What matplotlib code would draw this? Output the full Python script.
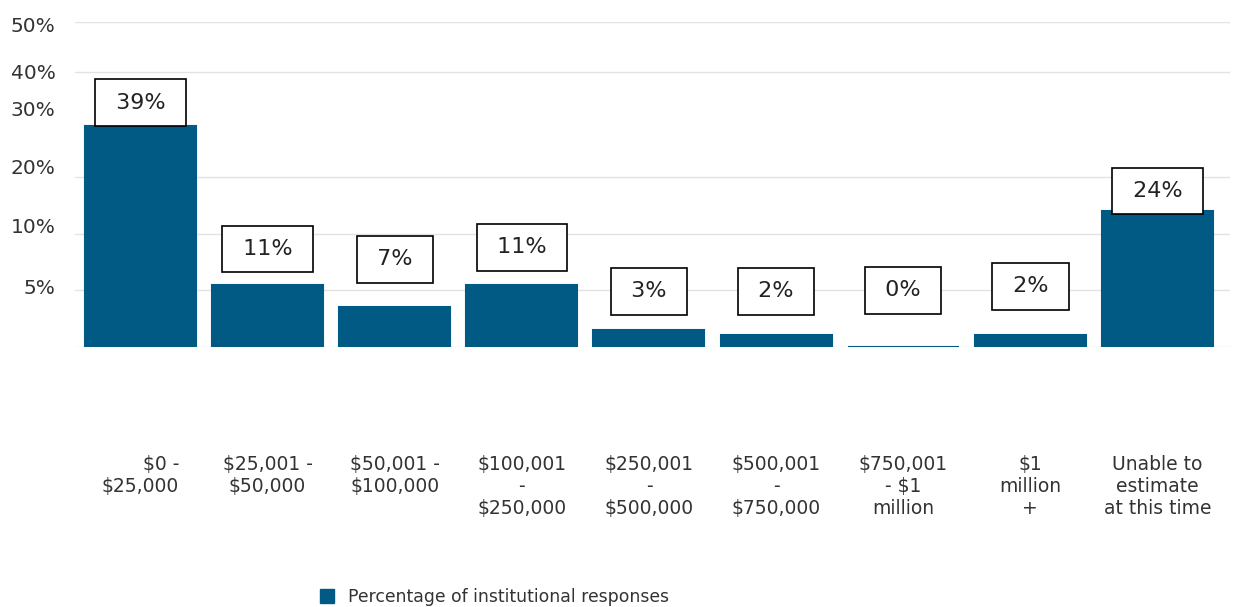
import matplotlib.pyplot as plt
from matplotlib.patches import Patch

plt.rcParams["text.parse_math"] = False
plt.rcParams["font.family"] = ["DejaVu Sans"]

# survey buckets and share of institutional responses (%)
categories = [
    "$0 -\n$25,000",
    "$25,001 -\n$50,000",
    "$50,001 -\n$100,000",
    "$100,001\n-\n$250,000",
    "$250,001\n-\n$500,000",
    "$500,001\n-\n$750,000",
    "$750,001\n- $1\nmillion",
    "$1\nmillion\n+",
    "Unable to\nestimate\nat this time",
]
percentages = [39, 11, 7, 11, 3, 2, 0, 2, 24]

# y axis labels as they appear on the published chart
ytick_labels = ["5%", "10%", "20%", "30%", "40%", "50%"]

BAR_COLOR = "#015a84"
TEXT_COLOR = "#333333"

fig = plt.figure(figsize=(12.41, 6.07), dpi=100)
ax = fig.add_axes([0.0604, 0.4288, 0.9307, 0.5349])

x = list(range(len(categories)))
ax.bar(x, percentages, width=0.873, color=BAR_COLOR, edgecolor=BAR_COLOR,
       linewidth=1.5, zorder=3)

ax.set_xlim(-0.515, 8.57)
ax.set_ylim(0, 57.5)

# light horizontal rules
for gy in [0, 10, 20, 30, 48.6, 57.5]:
    ax.axhline(gy, color="#e3e3e3", linewidth=1, zorder=1)

ax.set_yticks([10.6, 21.5, 32.0, 42.2, 48.8, 57.0], ytick_labels)
ax.tick_params(axis="y", length=0, pad=14, labelsize=14.5, labelcolor=TEXT_COLOR)

ax.set_xticks(x, categories)
ax.tick_params(axis="x", length=0, pad=78, labelsize=13.5, labelcolor=TEXT_COLOR)
for lbl in ax.get_xticklabels():
    lbl.set_verticalalignment("top")
ax.get_xticklabels()[0].set_multialignment("right")

for side in ["top", "right", "left", "bottom"]:
    ax.spines[side].set_visible(False)

# boxed value labels
label_y = [43.2, 17.3, 15.5, 17.6, 9.8, 9.8, 10.0, 10.7, 27.6]
for xi, v, ly in zip(x, percentages, label_y):
    ax.text(xi, ly, f" {v}% ", ha="center", va="center", fontsize=16,
            color="#222222", zorder=4,
            bbox=dict(boxstyle="square,pad=0.6", facecolor="white",
                      edgecolor="black", linewidth=1.2))

handle = Patch(facecolor=BAR_COLOR, edgecolor=BAR_COLOR,
               label="Percentage of institutional responses")
fig.legend(handles=[handle], loc="center left", bbox_to_anchor=(0.258, 0.0165),
           frameon=False, fontsize=12.4, labelcolor=TEXT_COLOR,
           handlelength=0.8, handleheight=0.8, handletextpad=0.8,
           borderpad=0, borderaxespad=0)

fig.savefig("out.png", dpi=100)
